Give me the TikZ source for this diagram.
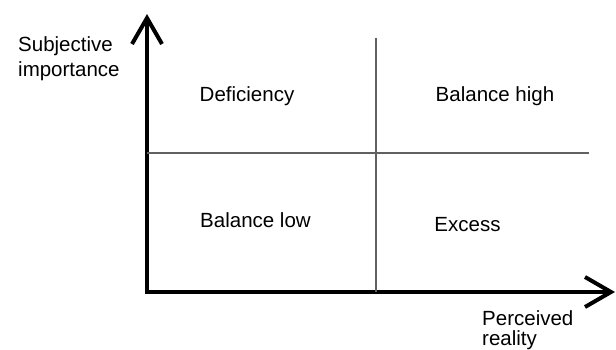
\documentclass[tikz,border=0pt]{standalone}
\usepackage{fontspec}
\setmainfont{Liberation Sans}
\usetikzlibrary{arrows.meta}
\begin{document}
\begin{tikzpicture}[x=1pt,y=-1pt,
    axis/.style={line width=4pt,line join=miter,
        arrows={Straight Barb[length=26pt,width=30pt,line width=4pt]-Straight Barb[length=26pt,width=30pt,line width=4pt]}},
    divider/.style={line width=1.3pt,draw=black!62},
    quad/.style={anchor=base,inner sep=0pt,font=\fontsize{20.5}{25}\selectfont},
    axlabel/.style={anchor=base west,align=left,inner sep=0pt,font=\fontsize{20.5}{25}\selectfont}]
\useasboundingbox (0,0) rectangle (616,350);
% axes
\coordinate (O) at (147,292);
\coordinate (ytip) at (147,14);
\coordinate (xtip) at (615,292);
\draw[axis] (ytip)--(O)--(xtip);
% dividers
\coordinate (vtop) at (376,38);
\coordinate (vbot) at (376,292);
\coordinate (hleft) at (147,153);
\coordinate (hright) at (589,153);
\draw[divider] (vtop)--(vbot);
\draw[divider] (hleft)--(hright);
% quadrant labels
\foreach \x/\y/\name/\txt in {247/102/def/Deficiency,495/102/bhigh/Balance high,255.5/227/blow/Balance low,467.5/231.5/exc/Excess}
{
    \node[quad] (\name) at (\x,\y) {\txt};
}
\node[axlabel] (ylab) at (18,77) {Subjective\\importance};
\node[axlabel,font=\fontsize{20.5}{19.5}\selectfont] (xlab) at (482,345) {Perceived\\reality};
\end{tikzpicture}
\end{document}
